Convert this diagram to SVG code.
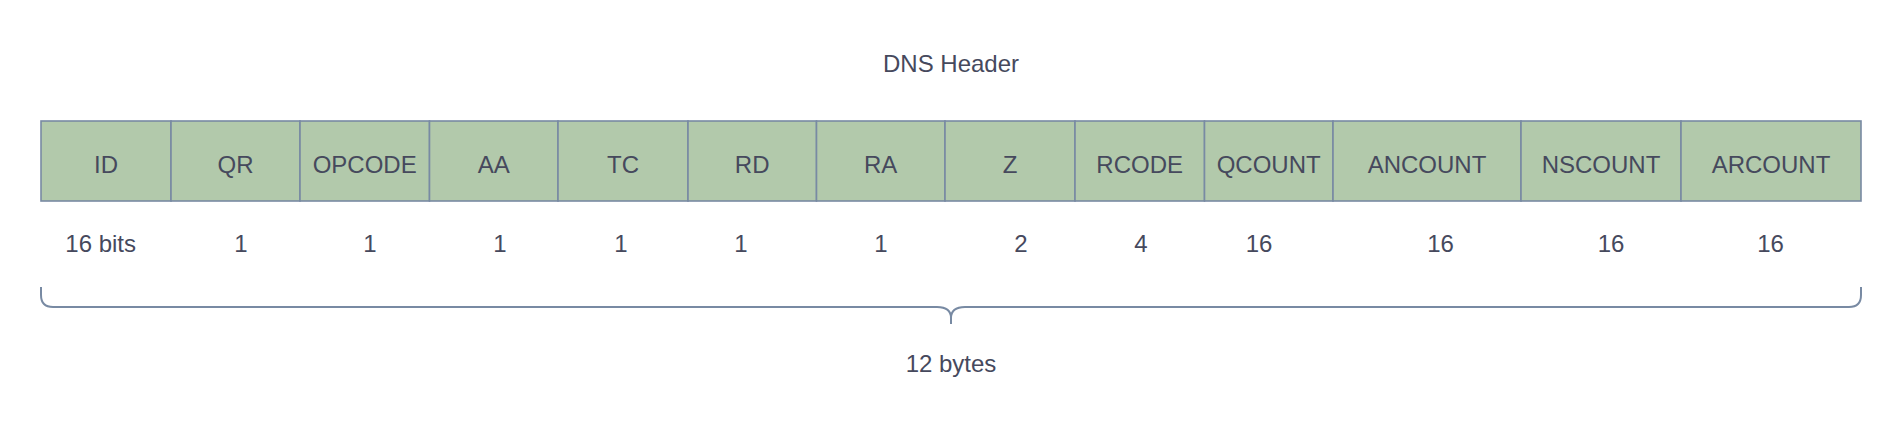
<svg xmlns="http://www.w3.org/2000/svg" width="1902" height="422" viewBox="0 0 1902 422">
<style>
.box{fill:#B2C9AB;stroke:#788AA3;stroke-width:1.6}
.t{font-family:"Liberation Sans",Arial,sans-serif;font-size:24px;fill:#46495D;text-anchor:middle}
.br{fill:none;stroke:#788AA3;stroke-width:2}
</style>
<rect width="1902" height="422" fill="#FFFFFF"/>
<text id="title" class="t" x="951" y="72">DNS Header</text>
<g id="n-id"><rect class="box" x="41" y="121" width="130" height="80"/><text class="t" x="106" y="173">ID</text></g>
<g id="n-qr"><rect class="box" x="171" y="121" width="129" height="80"/><text class="t" x="235.5" y="173">QR</text></g>
<g id="n-opcode"><rect class="box" x="300" y="121" width="129.5" height="80"/><text class="t" x="364.7" y="173">OPCODE</text></g>
<g id="n-aa"><rect class="box" x="429.5" y="121" width="128.5" height="80"/><text class="t" x="493.7" y="173">AA</text></g>
<g id="n-tc"><rect class="box" x="558" y="121" width="130" height="80"/><text class="t" x="623" y="173">TC</text></g>
<g id="n-rd"><rect class="box" x="688" y="121" width="128.5" height="80"/><text class="t" x="752.2" y="173">RD</text></g>
<g id="n-ra"><rect class="box" x="816.5" y="121" width="128.5" height="80"/><text class="t" x="880.7" y="173">RA</text></g>
<g id="n-z"><rect class="box" x="945" y="121" width="130" height="80"/><text class="t" x="1010" y="173">Z</text></g>
<g id="n-rcode"><rect class="box" x="1075" y="121" width="129.5" height="80"/><text class="t" x="1139.7" y="173">RCODE</text></g>
<g id="n-qcount"><rect class="box" x="1204.5" y="121" width="128.5" height="80"/><text class="t" x="1268.7" y="173">QCOUNT</text></g>
<g id="n-ancount"><rect class="box" x="1333" y="121" width="188" height="80"/><text class="t" x="1427" y="173">ANCOUNT</text></g>
<g id="n-nscount"><rect class="box" x="1521" y="121" width="160" height="80"/><text class="t" x="1601" y="173">NSCOUNT</text></g>
<g id="n-arcount"><rect class="box" x="1681" y="121" width="180" height="80"/><text class="t" x="1771" y="173">ARCOUNT</text></g>
<g id="sizes">
<text class="t" x="100.7" y="252">16 bits</text>
<text class="t" x="241" y="252">1</text>
<text class="t" x="370" y="252">1</text>
<text class="t" x="500" y="252">1</text>
<text class="t" x="621" y="252">1</text>
<text class="t" x="741" y="252">1</text>
<text class="t" x="881" y="252">1</text>
<text class="t" x="1021" y="252">2</text>
<text class="t" x="1141" y="252">4</text>
<text class="t" x="1259" y="252">16</text>
<text class="t" x="1440.5" y="252">16</text>
<text class="t" x="1611" y="252">16</text>
<text class="t" x="1770.6" y="252">16</text>
</g>
<g id="connectors">
<path id="brace" class="br" d="M41 287 L41 295 Q41 307 53 307 L937 307 Q951 307 951 318 L951 324 M951 318 Q951 307 965 307 L1849 307 Q1861 307 1861 295 L1861 287"/>
</g>
<text id="bytes" class="t" x="951" y="372">12 bytes</text>
</svg>
